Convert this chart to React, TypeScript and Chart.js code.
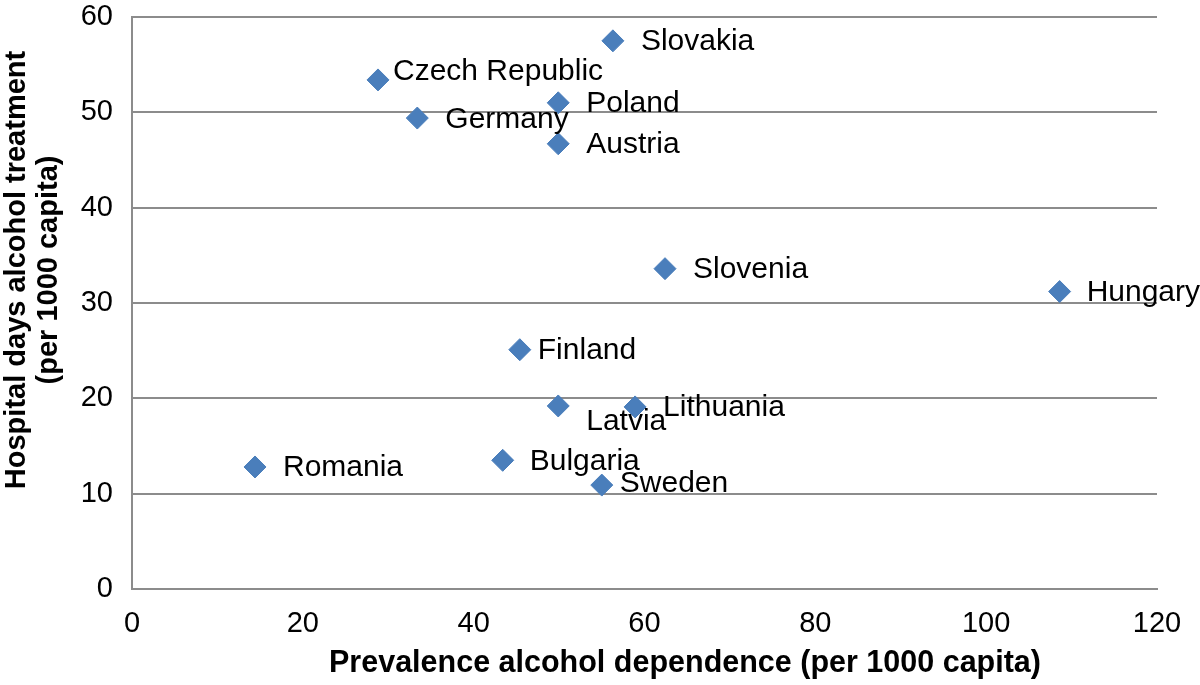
import React, { useEffect, useRef } from "react";
import { Chart, registerables } from "chart.js";

Chart.register(...registerables);

const countries = [
  "Slovakia", "Czech Republic", "Poland", "Germany", "Austria", "Slovenia", "Hungary",
  "Finland", "Latvia", "Lithuania", "Romania", "Bulgaria", "Sweden",
];
const prevalence = [56.3, 28.8, 49.9, 33.4, 49.9, 62.4, 108.6, 45.4, 49.9, 58.9, 14.4, 43.4, 55.0];
const hospitalDays = [57.5, 53.4, 51.0, 49.4, 46.7, 33.6, 31.2, 25.1, 19.2, 19.1, 12.8, 13.5, 10.9];

const xTitle = "Prevalence alcohol dependence (per 1000 capita)";
const yTitle = ["Hospital days alcohol treatment", "(per 1000 capita)"];

// label placement relative to marker: [dx, dy]
const labelOffsets: [number, number][] = [
  [28, 1], [15, -8], [28, 1], [28, 2], [28, 1], [28, 1], [27, 1],
  [18, 1], [28, 16], [28, 1], [28, 1], [27, 1], [18, -1],
];

const FONT = '"Liberation Sans", Arial, Helvetica, sans-serif';
const GRID = "#8c8c8c";
const MARK = "#4A7EBB";

const labelPlugin = {
  id: "pointLabels",
  afterDatasetsDraw(chart: any) {
    const ctx = chart.ctx;
    const meta = chart.getDatasetMeta(0);
    ctx.save();
    ctx.font = `30px ${FONT}`;
    ctx.fillStyle = "#000";
    ctx.textBaseline = "middle";
    ctx.textAlign = "left";
    meta.data.forEach((pt: any, i: number) => {
      const [dx, dy] = labelOffsets[i];
      ctx.fillText(countries[i], pt.x + dx, pt.y + dy);
    });
    ctx.restore();
  },
};

function drawRotated(ctx: any, text: string, x: number, y: number, size: number) {
  ctx.save();
  ctx.fillStyle = "#000";
  ctx.font = `bold ${size}px ${FONT}`;
  ctx.textAlign = "center";
  ctx.textBaseline = "middle";
  ctx.translate(x, y);
  ctx.rotate(-Math.PI / 2);
  ctx.fillText(text, 0, 0);
  ctx.restore();
}

const titlePlugin = {
  id: "axisTitles",
  afterDraw(chart: any) {
    const ctx = chart.ctx;
    ctx.save();
    ctx.fillStyle = "#000";
    ctx.font = `bold 30.5px ${FONT}`;
    ctx.textAlign = "center";
    ctx.textBaseline = "middle";
    ctx.fillText(xTitle, 685, 664);
    ctx.restore();
    drawRotated(ctx, yTitle[0], 17, 270, 29);
    drawRotated(ctx, yTitle[1], 49, 270, 29);
  },
};

export default function App() {
  const ref = useRef<HTMLCanvasElement | null>(null);
  useEffect(() => {
    if (!ref.current) return;
    const chart = new Chart(ref.current, {
      type: "scatter",
      data: {
        datasets: [
          {
            data: prevalence.map((x, i) => ({ x, y: hospitalDays[i] })),
            pointStyle: "rectRot",
            pointRadius: 11,
            pointBackgroundColor: MARK,
            pointBorderColor: MARK,
            pointBorderWidth: 1,
          },
        ],
      },
      options: {
        animation: false,
        responsive: false,
        devicePixelRatio: 1,
        layout: { padding: { left: 0, top: 0, right: 43, bottom: 0 } },
        plugins: { legend: { display: false }, tooltip: { enabled: false } },
        scales: {
          x: {
            type: "linear",
            min: 0,
            max: 120,
            ticks: { stepSize: 20, color: "#000", font: { family: FONT, size: 29 }, padding: 18 },
            grid: { display: false, drawTicks: false },
            border: { display: true, color: GRID, width: 2 },
            afterFit(s: any) { s.height = 96; },
          },
          y: {
            min: 0,
            max: 60,
            ticks: { stepSize: 10, color: "#000", font: { family: FONT, size: 29 }, padding: 19 },
            grid: { color: GRID, lineWidth: 2, drawTicks: false },
            border: { display: true, color: GRID, width: 2 },
            afterFit(s: any) { s.width = 132; s.paddingTop = 17; s.paddingBottom = 0; },
          },
        },
      },
      plugins: [labelPlugin, titlePlugin],
    });
    return () => chart.destroy();
  }, []);
  return (
    <div style={{ position: "absolute", left: 0, top: 0, width: 1200, height: 685, background: "#fff" }}>
      <canvas ref={ref} width={1200} height={685} />
    </div>
  );
}
